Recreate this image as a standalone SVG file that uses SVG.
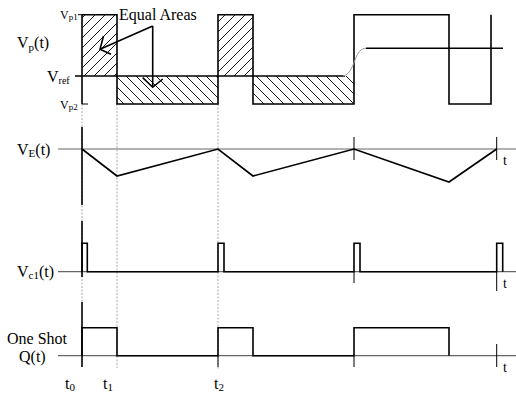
<svg xmlns="http://www.w3.org/2000/svg" width="516" height="393" viewBox="0 0 516 393">
<defs>
<pattern id="hf" patternUnits="userSpaceOnUse" width="10" height="10">
<path d="M-1,1 L1,-1 M0,10 L10,0 M9,11 L11,9" stroke="#000" stroke-width="0.9"/>
</pattern>
<pattern id="hb" patternUnits="userSpaceOnUse" width="10" height="10">
<path d="M-1,9 L1,11 M0,0 L10,10 M9,-1 L11,1" stroke="#000" stroke-width="0.9"/>
</pattern>
</defs>
<style>
text{font-family:"Liberation Serif","Times New Roman",serif;fill:#000}
.lbl{font-size:16px}
.sm{font-size:12px}
.tt{font-size:14px}
.sub{font-size:11px}
.axis{stroke:#666;stroke-width:1.2;fill:none}
.sig{stroke:#000;stroke-width:1.6;fill:none}
.thin{stroke:#000;stroke-width:1;fill:none}
.dot{stroke:#aaa;stroke-width:1;stroke-dasharray:2,1.5;fill:none}
</style>
<rect width="516" height="393" fill="#fff"/>

<g id="guides">
<path class="dot" d="M82,104 V302 M117,104 V368 M218,104 V370"/>
</g>

<g id="vp-plot">
<rect x="82" y="14.7" width="35" height="61.3" fill="url(#hf)"/>
<rect x="218" y="14.7" width="35" height="61.3" fill="url(#hf)"/>
<rect x="117" y="76" width="101" height="28" fill="url(#hb)"/>
<rect x="253" y="76" width="101" height="28" fill="url(#hb)"/>
<path class="sig" d="M82,14.7 V104 M82,14.7 H117 V104 H218 V14.7 H253 V104 H354 V14.7 H449 V104 H491 V14.7"/>
<path class="sig" d="M75,76 H345"/>
<path class="thin" d="M78,14.7 H82 M82,104 H88"/>
<path d="M343,76 C349,75 352,68 355,60 C358,52 361,48.3 366,48.3" stroke="#999" stroke-width="1" fill="none"/>
<path class="sig" d="M366,48.3 H503"/>
</g>

<g id="equal-areas">
<text class="lbl" x="119" y="20">Equal Areas</text>
<path class="sig" d="M152.7,26 L100,49.3 M103.5,36 L100,49.3 L111,54.3 M152.7,26 V87.3 M142.7,77.7 L152.7,87.3 L162.7,79"/>
</g>

<g id="labels-vp">
<text class="lbl" x="17" y="48">V<tspan class="sub" dy="3">p</tspan><tspan dy="-3">(t)</tspan></text>
<text class="sm" x="60" y="19">V<tspan font-size="9" dy="1">p1</tspan></text>
<text class="lbl" x="47" y="82">V<tspan font-size="10" dy="2">ref</tspan></text>
<text class="sm" x="60" y="109">V<tspan font-size="9" dy="1">p2</tspan></text>
</g>

<g id="ve-plot">
<path class="axis" d="M58,149 H516"/>
<path class="sig" d="M82,127 V205"/>
<path class="sig" d="M82,149 L117,176 L218,149 L253,176 L354,149 L449,182 L496.7,149"/>
<path class="thin" d="M354,137 V160 M496.7,137 V160"/>
<text class="lbl" x="17" y="155">V<tspan class="sub" dy="2">E</tspan><tspan dy="-2">(t)</tspan></text>
<text class="tt" x="503" y="165">t</text>
</g>

<g id="vc1-plot">
<path class="axis" d="M58,271.7 H516"/>
<path class="sig" d="M82,221 V277"/>
<path class="sig" d="M82,271.7 V243.3 H87.3 V271.7 H218 V243.3 H224 V271.7 H354 V243.3 H360 V271.7 H496.7 V243.3 H502.7 V271.7"/>
<path class="thin" d="M354,271.7 V283 M496.7,271.7 V291"/>
<text class="lbl" x="17" y="277">V<tspan class="sub" dy="2">c1</tspan><tspan dy="-2">(t)</tspan></text>
<text class="tt" x="503" y="288">t</text>
</g>

<g id="q-plot">
<path class="axis" d="M58,355.7 H516"/>
<path class="sig" d="M82,302 V367"/>
<path class="sig" d="M82,355.7 V327.7 H117 V355.7 H218 V327.7 H253 V355.7 H354 V327.7 H449 V355.7"/>
<path class="thin" d="M218,355.7 V367 M354,355.7 V367 M496.7,344 V367"/>
<text class="lbl" x="7" y="344">One Shot</text>
<text class="lbl" x="19" y="362">Q(t)</text>
<text class="tt" x="503" y="372">t</text>
</g>

<g id="time-labels">
<text class="lbl" x="65" y="389">t<tspan class="sub" dy="2">0</tspan></text>
<text class="lbl" x="103" y="389">t<tspan class="sub" dy="2">1</tspan></text>
<text class="lbl" x="214" y="389">t<tspan class="sub" dy="2">2</tspan></text>
</g>
</svg>
